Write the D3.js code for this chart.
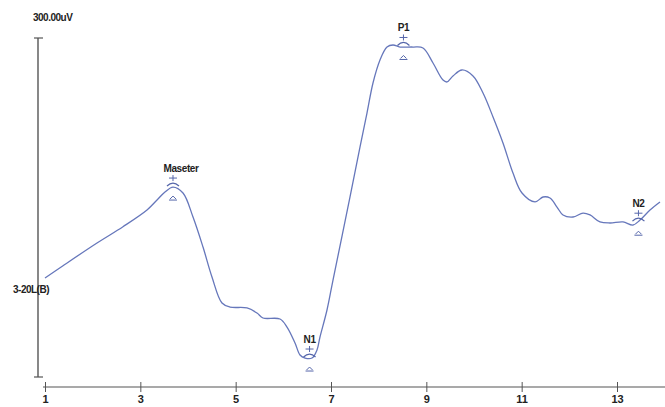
<!DOCTYPE html>
<html>
<head>
<meta charset="utf-8">
<script src="https://cdn.jsdelivr.net/npm/d3@7"></script>
<style>
  body { margin: 0; background: #fff; }
  text { font-family: "Liberation Sans", Arial, sans-serif; font-weight: bold; fill: #222; }
</style>
</head>
<body>
<div id="chart"></div>
<script>
////////////////////////////  Data  ////////////////////////////
// waveform, x in axis units, y in uV
const waveX = [1.0, 1.378, 2.091, 2.636, 3.14, 3.35, 3.517, 3.685, 3.895, 4.105, 4.315, 4.503,
  4.713, 4.881, 5.238, 5.448, 5.573, 5.93, 6.077, 6.245, 6.35, 6.455, 6.601, 6.706, 6.769,
  6.916, 7.042, 7.399, 7.608, 7.755, 7.881, 8.028, 8.175, 8.301, 8.448, 8.72, 8.93, 9.14,
  9.35, 9.434, 9.559, 9.748, 9.979, 10.189, 10.399, 10.608, 10.818, 11.007, 11.28, 11.448,
  11.594, 11.741, 11.867, 12.077, 12.287, 12.434, 12.643, 12.853, 13.126, 13.336, 13.483,
  13.692, 13.902];
const waveY = [87.6, 98.5, 118.6, 133.0, 147.8, 156.6, 163.7, 168.1, 162.8, 141.6, 115.0, 88.5,
  65.5, 61.9, 61.1, 56.6, 52.2, 51.3, 44.2, 30.1, 19.5, 16.8, 16.8, 23.9, 35.4,
  59.3, 85.8, 159.3, 203.5, 233.6, 260.2, 280.5, 292.0, 293.8, 292.0, 292.0, 291.2, 277.9,
  262.8, 261.1, 266.4, 271.7, 266.4, 251.3, 230.1, 207.1, 180.5, 162.8, 154.9, 159.3,
  158.4, 150.4, 143.4, 141.6, 145.1, 143.4, 137.2, 136.3, 137.2, 134.5, 138.9,
  147.8, 154.9];

const peakNames = ["Maseter", "N1", "P1", "N2"];
const peakX = [3.685, 6.55, 8.52, 13.45];
const peakY = [168.1, 16.8, 292.5, 137.0];

const xTicks = [1, 3, 5, 7, 9, 11, 13];
const yTopLabel = "300.00uV";
const channelLabel = "3-20L(B)";

////////////////////////////  Init  ////////////////////////////
const width = 665;
const height = 407;

const svg = d3.select("#chart").append("svg")
  .attr("width", width)
  .attr("height", height);

svg.append("rect").attr("width", width).attr("height", height).attr("fill", "#fff");

const x = d3.scaleLinear().domain([1, 13]).range([45, 617]);
const y = d3.scaleLinear().domain([0, 300]).range([377, 38]);

const axisColor = "#555";
const waveColor = "#6677bb";
const markColor = "#5566aa";

// y axis
svg.append("line")
  .attr("x1", 38).attr("x2", 38)
  .attr("y1", y(300)).attr("y2", y(0))
  .attr("stroke", axisColor).attr("stroke-width", 1.4);

svg.selectAll(".ycap")
  .data([0, 300])
  .enter()
  .append("line")
  .attr("x1", 34).attr("x2", 43)
  .attr("y1", (d) => y(d)).attr("y2", (d) => y(d))
  .attr("stroke", axisColor).attr("stroke-width", 1.2);

svg.append("text")
  .attr("x", 33).attr("y", 21)
  .attr("font-size", 10)
  .attr("letter-spacing", -0.5)
  .text(yTopLabel);

svg.append("text")
  .attr("x", 13).attr("y", 293)
  .attr("font-size", 10)
  .attr("letter-spacing", -0.5)
  .text(channelLabel);

// x axis
const xAxis = d3.axisBottom(x)
  .tickValues(xTicks)
  .tickSize(5)
  .tickFormat(d3.format("d"));

const gx = svg.append("g")
  .attr("transform", "translate(0,387)")
  .call(xAxis);

gx.select(".domain").remove();
gx.append("line")
  .attr("x1", 43).attr("x2", width)
  .attr("stroke", axisColor).attr("stroke-width", 1.2);
gx.selectAll(".tick line")
  .attr("y1", -5).attr("y2", 5)
  .attr("stroke", axisColor);
gx.selectAll(".tick text")
  .attr("y", 8)
  .attr("font-size", 11)
  .attr("font-family", "Liberation Sans, Arial, sans-serif")
  .attr("font-weight", "bold")
  .attr("fill", "#222");

// waveform
const wave = waveX.map((d, i) => [d, waveY[i]]);
const line = d3.line()
  .x((d) => x(d[0]))
  .y((d) => y(d[1]))
  .curve(d3.curveCatmullRom.alpha(0.5));

svg.append("path")
  .datum(wave)
  .attr("d", line)
  .attr("fill", "none")
  .attr("stroke", waveColor)
  .attr("stroke-width", 1.3);

// peak markers
const peaks = peakNames.map((d, i) => ({ name: d, px: x(peakX[i]), py: y(peakY[i]) }));

const pg = svg.selectAll(".peak")
  .data(peaks)
  .enter()
  .append("g")
  .attr("transform", (d) => `translate(${d.px},${d.py})`);

pg.append("text")
  .attr("x", (d) => (d.name.length > 3 ? 8 : 0))
  .attr("y", -15)
  .attr("text-anchor", "middle")
  .attr("font-size", 10)
  .attr("letter-spacing", -0.4)
  .text((d) => d.name);

// top marker: bar with tick and a cap
pg.append("line")
  .attr("x1", -4).attr("x2", 4).attr("y1", -9).attr("y2", -9)
  .attr("stroke", markColor).attr("stroke-width", 1);
pg.append("line")
  .attr("x1", 0).attr("x2", 0).attr("y1", -12).attr("y2", -6)
  .attr("stroke", markColor).attr("stroke-width", 1);
pg.append("path")
  .attr("d", "M-6,-1 Q0,-7 6,-1")
  .attr("fill", "none")
  .attr("stroke", markColor).attr("stroke-width", 1.2);

// bottom marker
pg.append("path")
  .attr("d", "M-3,12 L0,9 L3,12")
  .attr("fill", "none")
  .attr("stroke", markColor).attr("stroke-width", 1);
pg.append("line")
  .attr("x1", -4).attr("x2", 4).attr("y1", 13).attr("y2", 13)
  .attr("stroke", markColor).attr("stroke-width", 1);
</script>
</body>
</html>
